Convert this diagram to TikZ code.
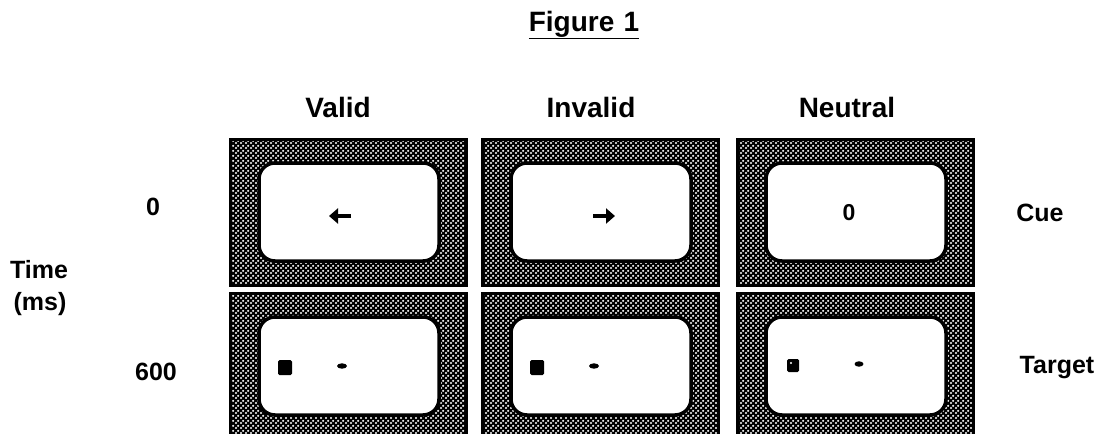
\documentclass[tikz,border=0pt]{standalone}
\usepackage{fontspec}
\setmainfont{Liberation Sans}
\usetikzlibrary{patterns,arrows.meta}
\pgfdeclarepatternformonly{screendots}{\pgfqpoint{0pt}{0pt}}{\pgfqpoint{5pt}{5pt}}{\pgfqpoint{5pt}{5pt}}{%
  \pgfpathcircle{\pgfqpoint{1.25pt}{1.25pt}}{1.35pt}%
  \pgfpathcircle{\pgfqpoint{3.75pt}{3.75pt}}{1.35pt}%
  \pgfusepath{fill}%
}
\begin{document}
\begin{tikzpicture}[x=1pt,y=-1pt,
  lbl/.style={font=\bfseries\fontsize{28}{30}\selectfont, inner sep=0pt, anchor=base},
  sml/.style={font=\bfseries\fontsize{25}{27}\selectfont, inner sep=0pt, anchor=base},
  screen/.style={draw=black, line width=3pt, minimum width=236pt, minimum height=146pt,
     inner sep=0pt, preaction={fill=black}, pattern=screendots, pattern color=white},
  display/.style={draw=black, line width=3.5pt, fill=white, rounded corners=16pt,
     minimum width=180pt, minimum height=98pt, inner sep=0pt},
  cuearrow/.style={line width=4.5pt, -{Triangle[length=9pt,width=15pt]}},
  tsquare/.style={fill=black, rounded corners=1.5pt},
]
\useasboundingbox (0,0) rectangle (1104,434);
\clip (0,0) rectangle (1104,434);

% title
\node[lbl] (title) at (584,31) {\underline{Figure\,\,1}};

% column labels
\node[lbl] (valid) at (338,117) {Valid};
\node[lbl] (invalid) at (591,117) {Invalid};
\node[lbl] (neutral) at (847,117) {Neutral};

% row labels
\node[sml] (t0) at (153,215) {0};
\node[sml] (t600) at (156,380) {600};
\node[sml] (time) at (39,278) {Time};
\node[sml] (ms) at (40,310) {(ms)};
\node[sml] (cue) at (1040,221) {Cue};
\node[sml] (target) at (1057,373) {Target};

% screens
\foreach \cx/\nm in {348/a,600/b,855/c}{
  \node[screen] (top\nm) at (\cx,212) {};
  \node[display] (topin\nm) at (\cx+1,212) {};
  \node[screen] (bot\nm) at (\cx,366) {};
  \node[display] (botin\nm) at (\cx+1,366) {};
}

% cues
\draw[cuearrow] (351,216) -- (329,216);
\draw[cuearrow] (593,216) -- (615,216);
\node[font=\bfseries\fontsize{23}{24}\selectfont, inner sep=0pt, anchor=base] (ncue) at (849,220) {0};

% targets
\foreach \cx in {348,600}{
  \fill[tsquare] (\cx-70,360) rectangle (\cx-56,375);
  \fill (\cx-6,366) ellipse (5pt and 2.7pt);
}
\fill[tsquare] (787,359) rectangle (799,372);
\fill[white] (791,363) circle (1.2pt);
\fill (859,364) ellipse (4.5pt and 2.7pt);
\end{tikzpicture}
\end{document}
